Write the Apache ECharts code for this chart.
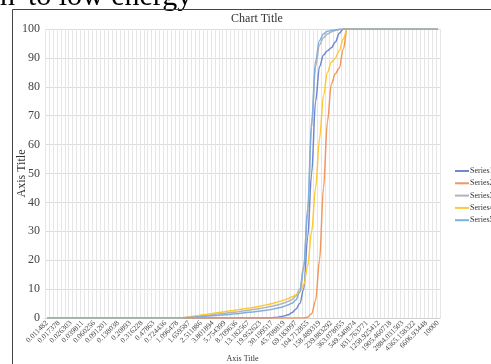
<!DOCTYPE html>
<html>
<head>
<meta charset="utf-8">
<script src="https://cdn.jsdelivr.net/npm/echarts@6/dist/echarts.min.js"></script>
<style>
  html, body { margin: 0; padding: 0; background: #fff; }
  #chart { width: 491px; height: 364px; }
</style>
</head>
<body>
<div id="chart"></div>
<script>
// Particle size classes (log-spaced, 10^0.06 step)
const categories = [
  '0.011482','0.013183','0.015136','0.017378','0.019953','0.022909','0.026303','0.0302','0.034674','0.039811',
  '0.045709','0.052481','0.060256','0.069183','0.079433','0.091201','0.104713','0.120226','0.138038','0.158489',
  '0.18197','0.20893','0.239883','0.275423','0.316228','0.363078','0.416869','0.47863','0.549541','0.630957',
  '0.724436','0.831764','0.954993','1.096478','1.258925','1.44544','1.659587','1.905461','2.187762','2.511886',
  '2.884032','3.311311','3.801894','4.365158','5.011872','5.754399','6.606934','7.585776','8.709636','10',
  '11.481536','13.182567','15.135612','17.378008','19.952623','22.908677','26.30268','30.199517','34.673685','39.810717',
  '45.708819','52.480746','60.255959','69.183097','79.432823','91.201084','104.712855','120.226443','138.038426','158.489319',
  '181.970086','208.929613','239.883292','275.42287','316.227766','363.078055','416.869383','478.630092','549.540874','630.957344',
  '724.43596','831.763771','954.992586','1096.478196','1258.925412','1445.439771','1659.586907','1905.460718','2187.761624','2511.886432',
  '2884.031503','3311.311215','3801.893963','4365.158322','5011.872336','5754.399373','6606.93448','7585.77575','8709.6359','10000'
];

const seriesNames = ['Series1', 'Series2', 'Series3', 'Series4', 'Series5'];

const zeros = n => new Array(n).fill(0);
const full = n => new Array(n).fill(100);

// cumulative % passing, one value per size class
const series1 = zeros(57).concat([
  0.1,0.2,0.4,0.7,1.1,1.8,3,5,10,28,
  50,75,87,91,92.5,93.5,95.5,98.5
]).concat(full(25));

const series2 = zeros(66).concat([
  0.3,1.5,6,20,45,68,81,84.5,86.5,93
]).concat(full(24));

const series3 = zeros(35).concat([
  0.15,0.3,0.45,0.6,0.75,0.9,1.05,1.2,1.35,1.5,
  1.65,1.8,1.95,2.1,2.3,2.5,2.7,2.9,3.1,3.3,
  3.55,3.8,4.1,4.4,4.8,5.2,5.7,6.3,
  7.6,10,18,36,66,87,94.5,97,98.3,99,99.5,99.8
]).concat(full(25));

const series4 = zeros(35).concat([
  0.2,0.4,0.6,0.8,1.0,1.2,1.4,1.6,1.8,2.0,
  2.2,2.4,2.6,2.8,3.0,3.2,3.4,3.6,3.85,4.1,
  4.4,4.7,5.0,5.4,5.8,6.2,6.7,7.3,8.0,9.0,
  11.5,18,30,45,62,77,85,88.5,90,92.5,96.5
]).concat(full(24));

const series5 = zeros(35).concat([
  0.1,0.2,0.3,0.4,0.5,0.6,0.7,0.8,0.9,1.0,
  1.1,1.2,1.35,1.5,1.65,1.8,1.95,2.1,2.25,2.4,
  2.6,2.8,3.0,3.3,3.6,4.0,4.5,5.1,
  6.2,9,17,38,68,89,96,98.3,99.2,99.5,99.7,99.9
]).concat(full(25));

const yTicks = { min: 0, max: 100, interval: 10 };

const colors = ['#7088cf', '#f0975f', '#b4b4b4', '#fcc93a', '#80afdf'];
const serif = '"Liberation Serif", "DejaVu Serif", serif';
const values = [series1, series2, series3, series4, series5];

const chart = echarts.init(document.getElementById('chart'), null, { renderer: 'canvas' });

chart.setOption({
  animation: false,
  backgroundColor: '#fff',
  color: colors,
  textStyle: { fontFamily: serif },
  title: {
    text: 'Chart Title',
    left: 252,
    top: 8,
    textAlign: 'center',
    textStyle: { fontFamily: serif, fontSize: 12, fontWeight: 'normal', color: '#333' }
  },
  graphic: [
    {
      type: 'text',
      left: 0,
      top: -18,
      style: { text: "n' to low energy", font: '30px "Liberation Serif"', fill: '#000' }
    },
    {
      type: 'rect',
      shape: { x: 12.5, y: 9.5, width: 520, height: 400 },
      style: { fill: 'none', stroke: '#444', lineWidth: 1 },
      silent: true
    }
  ],
  legend: {
    orient: 'vertical',
    left: 455,
    top: 167,
    padding: 0,
    itemWidth: 14,
    itemHeight: 2,
    itemGap: 4.3,
    icon: 'rect',
    textStyle: { fontFamily: serif, fontSize: 8, color: '#333', padding: [0, 0, 0, -4] },
    data: seriesNames
  },
  grid: { left: 45, right: 51, top: 29, bottom: 46, outerBoundsMode: 'none', containLabel: false },
  xAxis: {
    type: 'category',
    data: categories,
    boundaryGap: true,
    name: 'Axis Title',
    nameLocation: 'middle',
    nameGap: 37,
    nameMoveOverlap: false,
    nameTextStyle: { fontFamily: serif, fontSize: 8, color: '#333' },
    axisLine: { lineStyle: { color: '#d0d0d0' } },
    axisTick: { show: false },
    axisLabel: {
      interval: 2,
      rotate: 45,
      fontFamily: serif,
      fontSize: 7.5,
      color: '#444',
      margin: 4
    },
    splitLine: { show: true, interval: 0, lineStyle: { color: '#e6e6e6', width: 1 } }
  },
  yAxis: {
    type: 'value',
    min: yTicks.min,
    max: yTicks.max,
    interval: yTicks.interval,
    name: 'Axis Title',
    nameLocation: 'middle',
    nameGap: 17,
    nameRotate: 90,
    nameMoveOverlap: false,
    nameTextStyle: { fontFamily: serif, fontSize: 12, color: '#333' },
    axisLine: { show: false },
    axisTick: { show: false },
    axisLabel: { fontFamily: serif, fontSize: 12, color: '#444', margin: 5 },
    splitLine: { lineStyle: { color: '#dcdcdc', width: 1 } }
  },
  series: seriesNames.map((name, k) => ({
    name,
    type: 'line',
    data: values[k],
    showSymbol: false,
    smooth: 0.35,
    smoothMonotone: 'x',
    lineStyle: { width: 1.5 },
    z: 2 + k
  }))
});
</script>
</body>
</html>
